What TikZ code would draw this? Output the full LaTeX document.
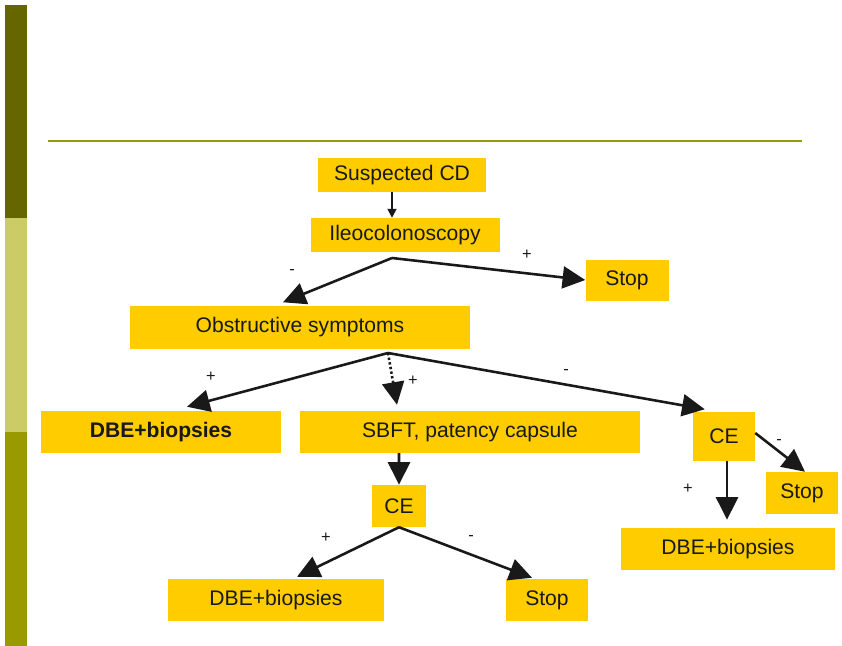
\documentclass[tikz,border=0pt]{standalone}
\usepackage{fontspec}
\setmainfont{Liberation Sans}
\usetikzlibrary{arrows.meta}
\definecolor{boxyellow}{HTML}{FFCC00}
\definecolor{bardark}{HTML}{666600}
\definecolor{barlight}{HTML}{CCCC66}
\definecolor{barolive}{HTML}{999900}
\tikzstyle{box}=[fill=boxyellow, inner sep=0pt, text=black!90, font=\fontsize{18}{21}\selectfont]
\tikzstyle{sign}=[inner sep=0pt, text=black!90, font=\fontsize{14}{16}\selectfont]
\tikzstyle{link}=[line width=2.2pt, black!90, -{Triangle[length=0.68cm,width=0.66cm]}]

\begin{document}
\begin{tikzpicture}[x=0.03cm,y=-0.03cm]

\useasboundingbox (0,0) rectangle (842,646);
% side bar and rule
\fill[bardark] (5,5) rectangle (27,218);
\fill[barlight] (5,218) rectangle (27,432);
\fill[barolive] (5,432) rectangle (27,646);
\draw[barolive, line width=1pt] (48,141) -- (802,141);

\node[box, minimum width=5.04cm, minimum height=1.02cm] (scd) at (402,175) {Suspected CD};
\node[box, minimum width=5.67cm, minimum height=1.02cm] (ileo) at (405,235) {Ileocolonoscopy};
\node[box, minimum width=2.49cm, minimum height=1.23cm] (stop1) at (627,280) {Stop};
\node[box, minimum width=10.17cm, minimum height=1.29cm] (obs) at (300,327) {Obstructive symptoms};
\node[box, minimum width=7.17cm, minimum height=1.26cm, font=\fontsize{18}{21}\selectfont\bfseries] (dbe1) at (161,432) {DBE+biopsies};
\node[box, minimum width=10.2cm, minimum height=1.26cm] (sbft) at (470,432) {SBFT, patency capsule};
\node[box, minimum width=1.86cm, minimum height=1.47cm] (ce2) at (724,436) {CE};
\node[box, minimum width=2.16cm, minimum height=1.26cm] (stop2) at (802,493) {Stop};
\node[box, minimum width=6.42cm, minimum height=1.26cm] (dbe2) at (728,549) {DBE+biopsies};
\node[box, minimum width=1.62cm, minimum height=1.26cm] (ce1) at (399,506) {CE};
\node[box, minimum width=6.45cm, minimum height=1.26cm] (dbe3) at (276,600) {DBE+biopsies};
\node[box, minimum width=2.46cm, minimum height=1.26cm] (stop3) at (547,600) {Stop};

\coordinate (j1) at (392,258);
\coordinate (j2) at (388,353);

\draw[line width=1.5pt, black!90, -{Triangle[length=0.27cm,width=0.27cm]}] ([xshift=-0.3cm]scd.south) -- ([xshift=-0.39cm]ileo.north);
\draw[link] (j1) -- ([xshift=-0.51cm,yshift=0.09cm]obs.north);
\draw[link] (j1) -- (stop1.west);
\draw[link] (j2) -- ([xshift=0.78cm,yshift=0.12cm]dbe1.north);
\draw[link, dash pattern=on 2pt off 2pt] (j2) -- ([xshift=-2.19cm,yshift=0.18cm]sbft.north);
\draw[link] (j2) -- ([xshift=0.36cm,yshift=0.06cm]ce2.north west);
\draw[link] ([xshift=-2.13cm]sbft.south) -- (ce1);
\draw[link] (ce1.south) -- ([xshift=0.63cm,yshift=0.06cm]dbe3.north);
\draw[link] (ce1.south) -- ([xshift=-0.45cm,yshift=0.03cm]stop3.north);
\draw[link] ([xshift=0.09cm]ce2.south) -- ([xshift=-0.03cm,yshift=0.24cm]dbe2.north);
\draw[link] ([yshift=0.09cm]ce2.east) -- ([xshift=0.09cm]stop2.north);

% signs
\node[sign] (s1) at (292,272) {-};
\node[sign] (s2) at (527,255) {+};
\node[sign] (s3) at (211,377) {+};
\node[sign] (s4) at (413,381) {+};
\node[sign] (s5) at (566,372) {-};
\node[sign] (s6) at (326,538) {+};
\node[sign] (s7) at (471,538) {-};
\node[sign] (s8) at (688,489) {+};
\node[sign] (s9) at (779,442) {-};

\end{tikzpicture}
\end{document}
